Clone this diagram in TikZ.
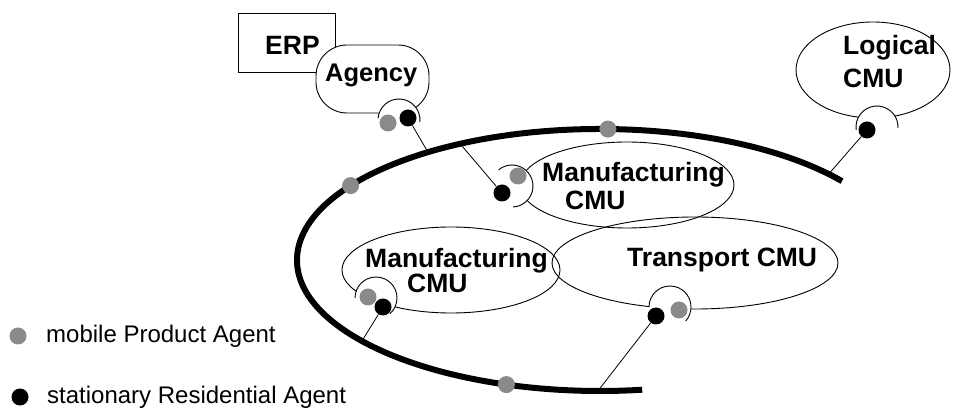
\documentclass[tikz,border=0pt]{standalone}
\usepackage{fontspec}
\setmainfont{Liberation Sans}
\usepackage{xcolor}
\usetikzlibrary{shapes.geometric}
\definecolor{agentgray}{HTML}{8A8A8A}
\tikzset{
    cmu/.style={draw, ellipse, line width=0.9pt, inner sep=0pt},
    lbl/.style={anchor=base west, inner sep=0pt, font=\fontsize{26.5}{30}\selectfont\bfseries},
    legtext/.style={anchor=base west, inner sep=0pt, font=\fontsize{24}{28}\selectfont},
    mobile/.style={circle, fill=agentgray, minimum size=17pt, inner sep=0pt},
    resident/.style={circle, fill=black, minimum size=17pt, inner sep=0pt},
    hook/.style={line width=0.8pt},
    portarc/.style={line width=0.9pt},
}

\begin{document}
\begin{tikzpicture}[x=1pt,y=-1pt]
            \useasboundingbox (0,0) rectangle (953,411);
            %ERP and agency
            \node[draw, line width=0.9pt, minimum width=97pt, minimum height=59pt, inner sep=0pt] (erp) at (286.5,42.5) {};
            \node[lbl] (erplbl) at (265,55) {ERP};
            \node[draw, fill=white, line width=0.9pt, rounded corners=31pt, minimum width=113pt, minimum height=68pt, inner sep=0pt] (agency) at (372.5,79) {};
            \node[lbl, font=\fontsize{25.5}{30}\selectfont\bfseries] (agencylbl) at (325,82) {Agency};
            %
            %CMUs
            \node[cmu, minimum width=154pt, minimum height=96pt] (logical) at (873,70) {};
            \node[cmu, minimum width=214pt, minimum height=86pt] (manuA) at (627,185) {};
            \node[cmu, minimum width=218pt, minimum height=86pt] (manuB) at (451,270) {};
            \node[cmu, minimum width=286pt, minimum height=92pt] (transport) at (695,263) {};
            \node[lbl] (logicallbl) at (843,55) {Logical};
            \node[lbl] (logicalcmu) at (843,88) {CMU};
            \node[lbl] (manuAlbl) at (542,182) {Manufacturing};
            \node[lbl] (manuAcmu) at (565,210) {CMU};
            \node[lbl] (manuBlbl) at (365,268) {Manufacturing};
            \node[lbl] (manuBcmu) at (407,293) {CMU};
            \node[lbl] (transportlbl) at (627,267) {Transport CMU};
            %
            %ports
            \foreach \cx/\cy/\a/\b in {399/120/185/365, 512/186/230/447, 376/298/180/408, 670/307/180/402, 877/127/172/363} {
                \fill[white] (\cx,\cy) circle (21);
                \draw[portarc] (\cx,\cy) ++(\a:21) arc[start angle=\a, end angle=\b, radius=21];
            }
            %
            %ring
            \coordinate (ring) at (600,260);
            \draw[line width=6pt] (ring) ++(323:303 and 131) arc[start angle=323, end angle=82, x radius=303, y radius=131];
            \path (ring) ++(235.4:303 and 131) coordinate (hkAgency);
            \path (ring) ++(242.5:303 and 131) coordinate (hkManuA);
            \path (ring) ++(319:303 and 131) coordinate (hkLogical);
            \path (ring) ++(141.8:303 and 131) coordinate (hkManuB);
            \path (ring) ++(90.4:303 and 131) coordinate (hkTransport);
            \foreach \ang [count=\i] in {214.6, 271.5, 108} {
                \path (ring) ++(\ang:303 and 131) node[mobile] (ringdot\i) {};
            }
            %
            %agents
            \node[mobile] (mobAgency) at (388,123) {};
            \node[resident] (resAgency) at (408,118) {};
            \node[mobile] (mobManuA) at (518,176) {};
            \node[resident] (resManuA) at (502,193) {};
            \node[mobile] (mobManuB) at (368,297) {};
            \node[resident] (resManuB) at (383,307) {};
            \node[resident] (resTransport) at (656,316) {};
            \node[mobile] (mobTransport) at (679,310) {};
            \node[resident] (resLogical) at (867,130) {};
            \draw[hook] (resAgency) -- (hkAgency);
            \draw[hook] (resManuA) -- (hkManuA);
            \draw[hook] (resManuB) -- (hkManuB);
            \draw[hook] (resTransport) -- (hkTransport);
            \draw[hook] (resLogical) -- (hkLogical);
            %
            %legend
            \node[mobile] (legMob) at (18,336) {};
            \node[legtext] (legMobTxt) at (46,343) {mobile Product Agent};
            \node[resident] (legRes) at (20,397) {};
            \node[legtext] (legResTxt) at (47,403) {stationary Residential Agent};
            %
\end{tikzpicture}
\end{document}
